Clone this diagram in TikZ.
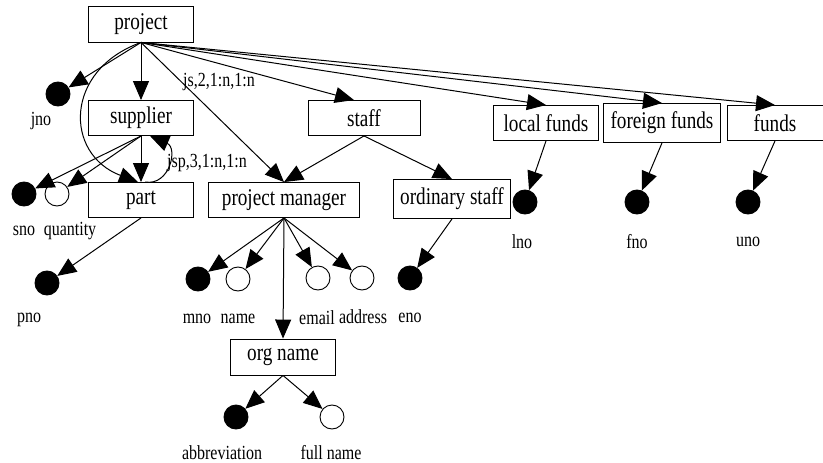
\documentclass[tikz,border=0pt]{standalone}
\usepackage{fontspec}
\usepackage{tikz}
\usetikzlibrary{arrows.meta}
\newfontfamily\gvfont{Liberation Serif}[FakeStretch=0.8]

\tikzset{
	entity/.style={draw, line width=0.9pt, inner sep=0pt, minimum height=36pt, font=\gvfont\fontsize{24}{26}\selectfont},
	keyattr/.style={circle, draw, fill=black, line width=0.9pt, minimum size=24pt, inner sep=0pt},
	plainattr/.style={circle, draw, fill=white, line width=0.9pt, minimum size=24pt, inner sep=0pt},
	attrname/.style={inner sep=0pt, font=\gvfont\fontsize{20}{22}\selectfont},
	link/.style={line width=1pt, -{Triangle[length=19pt,width=16pt]}}
}

\begin{document}
\begin{tikzpicture}[x=1pt,y=-1pt]
	
	\useasboundingbox (0,0) rectangle (823,463);
	
	\foreach \ename/\x/\y/\w/\h/\lbl in {
		project/141/24/105/36/project,
		supplier/141/118/105/35/supplier,
		part/141/200/105/35/part,
		staff/364/118/112/35/staff,
		manager/284/200/151/35/project manager,
		ordstaff/452/199/117/39/ordinary staff,
		localfunds/546/123/105/35/local funds,
		foreignfunds/662/123/117/39/foreign funds,
		funds/775/123/96/35/funds,
		orgname/283/357/105/36/org name}
	{
		\node[entity, minimum width=\w pt, minimum height=\h pt] (\ename) at (\x,\y) {\lbl};
	};
	
	\foreach \ename/\x/\y/\kind in {
		jno/58/94/keyattr, sno/24/194/keyattr, quantity/57/194/plainattr,
		pno/47/283/keyattr, mno/198/279/keyattr, name/238/279/plainattr,
		email/318/278/plainattr, address/362/278/plainattr, eno/410/278/keyattr,
		lno/525/202/keyattr, fno/637/202/keyattr, uno/748/202/keyattr,
		abbr/236/417/keyattr, fullname/332/417/plainattr}
	{
		\node[\kind] (\ename) at (\x,\y) {};
	};
	
	\foreach \ename/\x/\y/\lbl in {
		jno/41/121/jno, sno/24/231/sno, quantity/70/231/quantity,
		pno/29/320/pno, mno/197/319/mno, name/238/319/name,
		email/317/318/email, address/363/317/address, eno/410/318/eno,
		lno/522/242/lno, fno/637/242/fno, uno/748/242/uno,
		abbr/222/453/abbreviation, fullname/331/453/full name}
	{
		\node[attrname] (\ename-label) at (\x,\y) {\lbl};
	};
	
	\foreach \parent/\child in {
		project.south/jno, project.south/supplier.north, project.south/manager.north,
		project.south/localfunds.north, project.south/foreignfunds.north, project.south/funds.north,
		supplier.south/sno, supplier.south/quantity, supplier.south/part.north,
		part.south/pno, staff.south/manager.north, staff.south/ordstaff.north,
		manager.south/mno, manager.south/name, manager.south/email,
		manager.south/address, manager.south/orgname.north, ordstaff.south/eno,
		localfunds.south/lno, foreignfunds.south/fno, funds.south/uno,
		orgname.south/abbr, orgname.south/fullname}
	{
		\draw[link] (\parent) -- (\child);
	};
	
	\draw[link] (project.south) -- ([xshift=-10pt]staff.north);
	\draw[link] (project.south) .. controls (64,70) and (64,154) .. ([xshift=-3pt]part.north);
	\draw[link] ([xshift=4pt]part.north) .. controls (170,186) and (178,148) .. ([xshift=9pt]supplier.south);
	
	\node[attrname, anchor=west] (jslabel) at (183,82) {js,2,1:n,1:n};
	\node[attrname, anchor=west] (jsplabel) at (167,163) {jsp,3,1:n,1:n};
	
\end{tikzpicture}
\end{document}
